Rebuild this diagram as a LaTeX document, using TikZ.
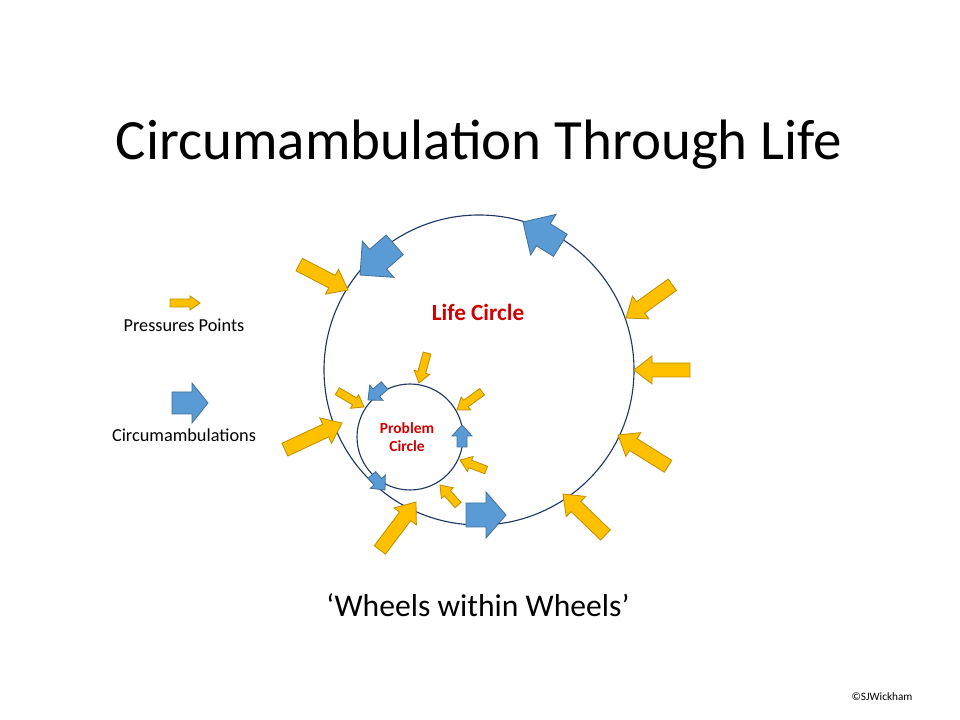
\documentclass[tikz,border=0pt]{standalone}
\usepackage{fontspec}
\setmainfont{Carlito}
\definecolor{pyellow}{HTML}{FFC000}
\definecolor{pyedge}{HTML}{BF9000}
\definecolor{cblue}{HTML}{5B9BD5}
\definecolor{cbedge}{HTML}{41719C}
\definecolor{lred}{HTML}{D00000}
\definecolor{rim}{HTML}{1F3864}
\newcommand*{\blockarrow}[7]{%
	\begin{scope}[shift={(#1)},rotate=#2]
	\draw [#7] (0,0) -- (-#6,#5/2) -- (-#6,#4/2) -- (-#3,#4/2) -- (-#3,-#4/2) -- (-#6,-#4/2) -- (-#6,-#5/2) -- cycle;
	\end{scope}
}
\tikzset{
	press/.style={fill=pyellow,draw=pyedge,line width=0.6pt,line join=miter},
	circum/.style={fill=cblue,draw=cbedge,line width=0.6pt,line join=miter},
	wheel/.style={draw=rim,line width=0.8pt},
	lbl/.style={font=\fontsize{13}{15}\selectfont}
}
\begin{document}
\begin{tikzpicture}[x=0.025cm,y=-0.025cm]
	\useasboundingbox (0,0) rectangle (960,720);

	\node (title) at (479,145) {\fontsize{40.5}{46}\selectfont Circumambulation Through Life};

	% the two wheels
	\draw [wheel] (479,370) circle (155);
	\draw [wheel] (410,437) circle (53);
	\node (life) [text=lred] at (478,312) {\fontsize{16.5}{19}\selectfont\bfseries Life Circle};
	\node (problem) [align=center,text=lred,font=\fontsize{11}{13}\selectfont\bfseries] at (407,437) {Problem\\ Circle};

	% pressure points on the life circle
	\blockarrow{348,290}{-27.5}{55}{14}{28}{18}{press}
	\blockarrow{626,318}{215.7}{57}{14}{28}{18}{press}
	\blockarrow{634,370}{180}{56}{14}{28}{18}{press}
	\blockarrow{618,435}{148}{59}{14}{28}{18}{press}
	\blockarrow{563,494}{136}{59}{14}{28}{18}{press}
	\blockarrow{416,502}{53}{60}{14}{28}{18}{press}
	\blockarrow{342,423}{25}{63}{14}{28}{18}{press}

	% pressure points on the problem circle
	\blockarrow{419,383}{-105}{31}{8}{16}{11}{press}
	\blockarrow{364,407}{-30.6}{31}{8}{16}{11}{press}
	\blockarrow{457,410}{-144}{31}{8}{16}{11}{press}
	\blockarrow{460,460}{159}{28}{8}{16}{11}{press}
	\blockarrow{440,485}{132}{27}{8}{16}{11}{press}

	% circumambulations
	\blockarrow{360,275}{-139}{46}{26}{48}{24}{circum}
	\blockarrow{523,222}{148}{44}{26}{48}{24}{circum}
	\blockarrow{506,515}{0}{40}{24}{46}{20}{circum}
	\blockarrow{368,400}{-139}{22}{10}{20}{11}{circum}
	\blockarrow{462,425}{90}{22}{10}{20}{11}{circum}
	\blockarrow{385,490}{-49}{20}{10}{20}{11}{circum}

	% legend
	\blockarrow{200,303}{0}{30}{8}{14}{10}{press}
	\node [lbl] (presslbl) at (184,325) {Pressures Points};
	\blockarrow{208,403}{0}{36}{22}{40}{16}{circum}
	\node [lbl] (circlbl) at (184,435) {Circumambulations};

	\node (motto) at (478,605) {\fontsize{22.5}{26}\selectfont ‘Wheels within Wheels’};
	\node (copy) at (882,697) {\fontsize{8}{10}\selectfont ©SJWickham};
\end{tikzpicture}
\end{document}
